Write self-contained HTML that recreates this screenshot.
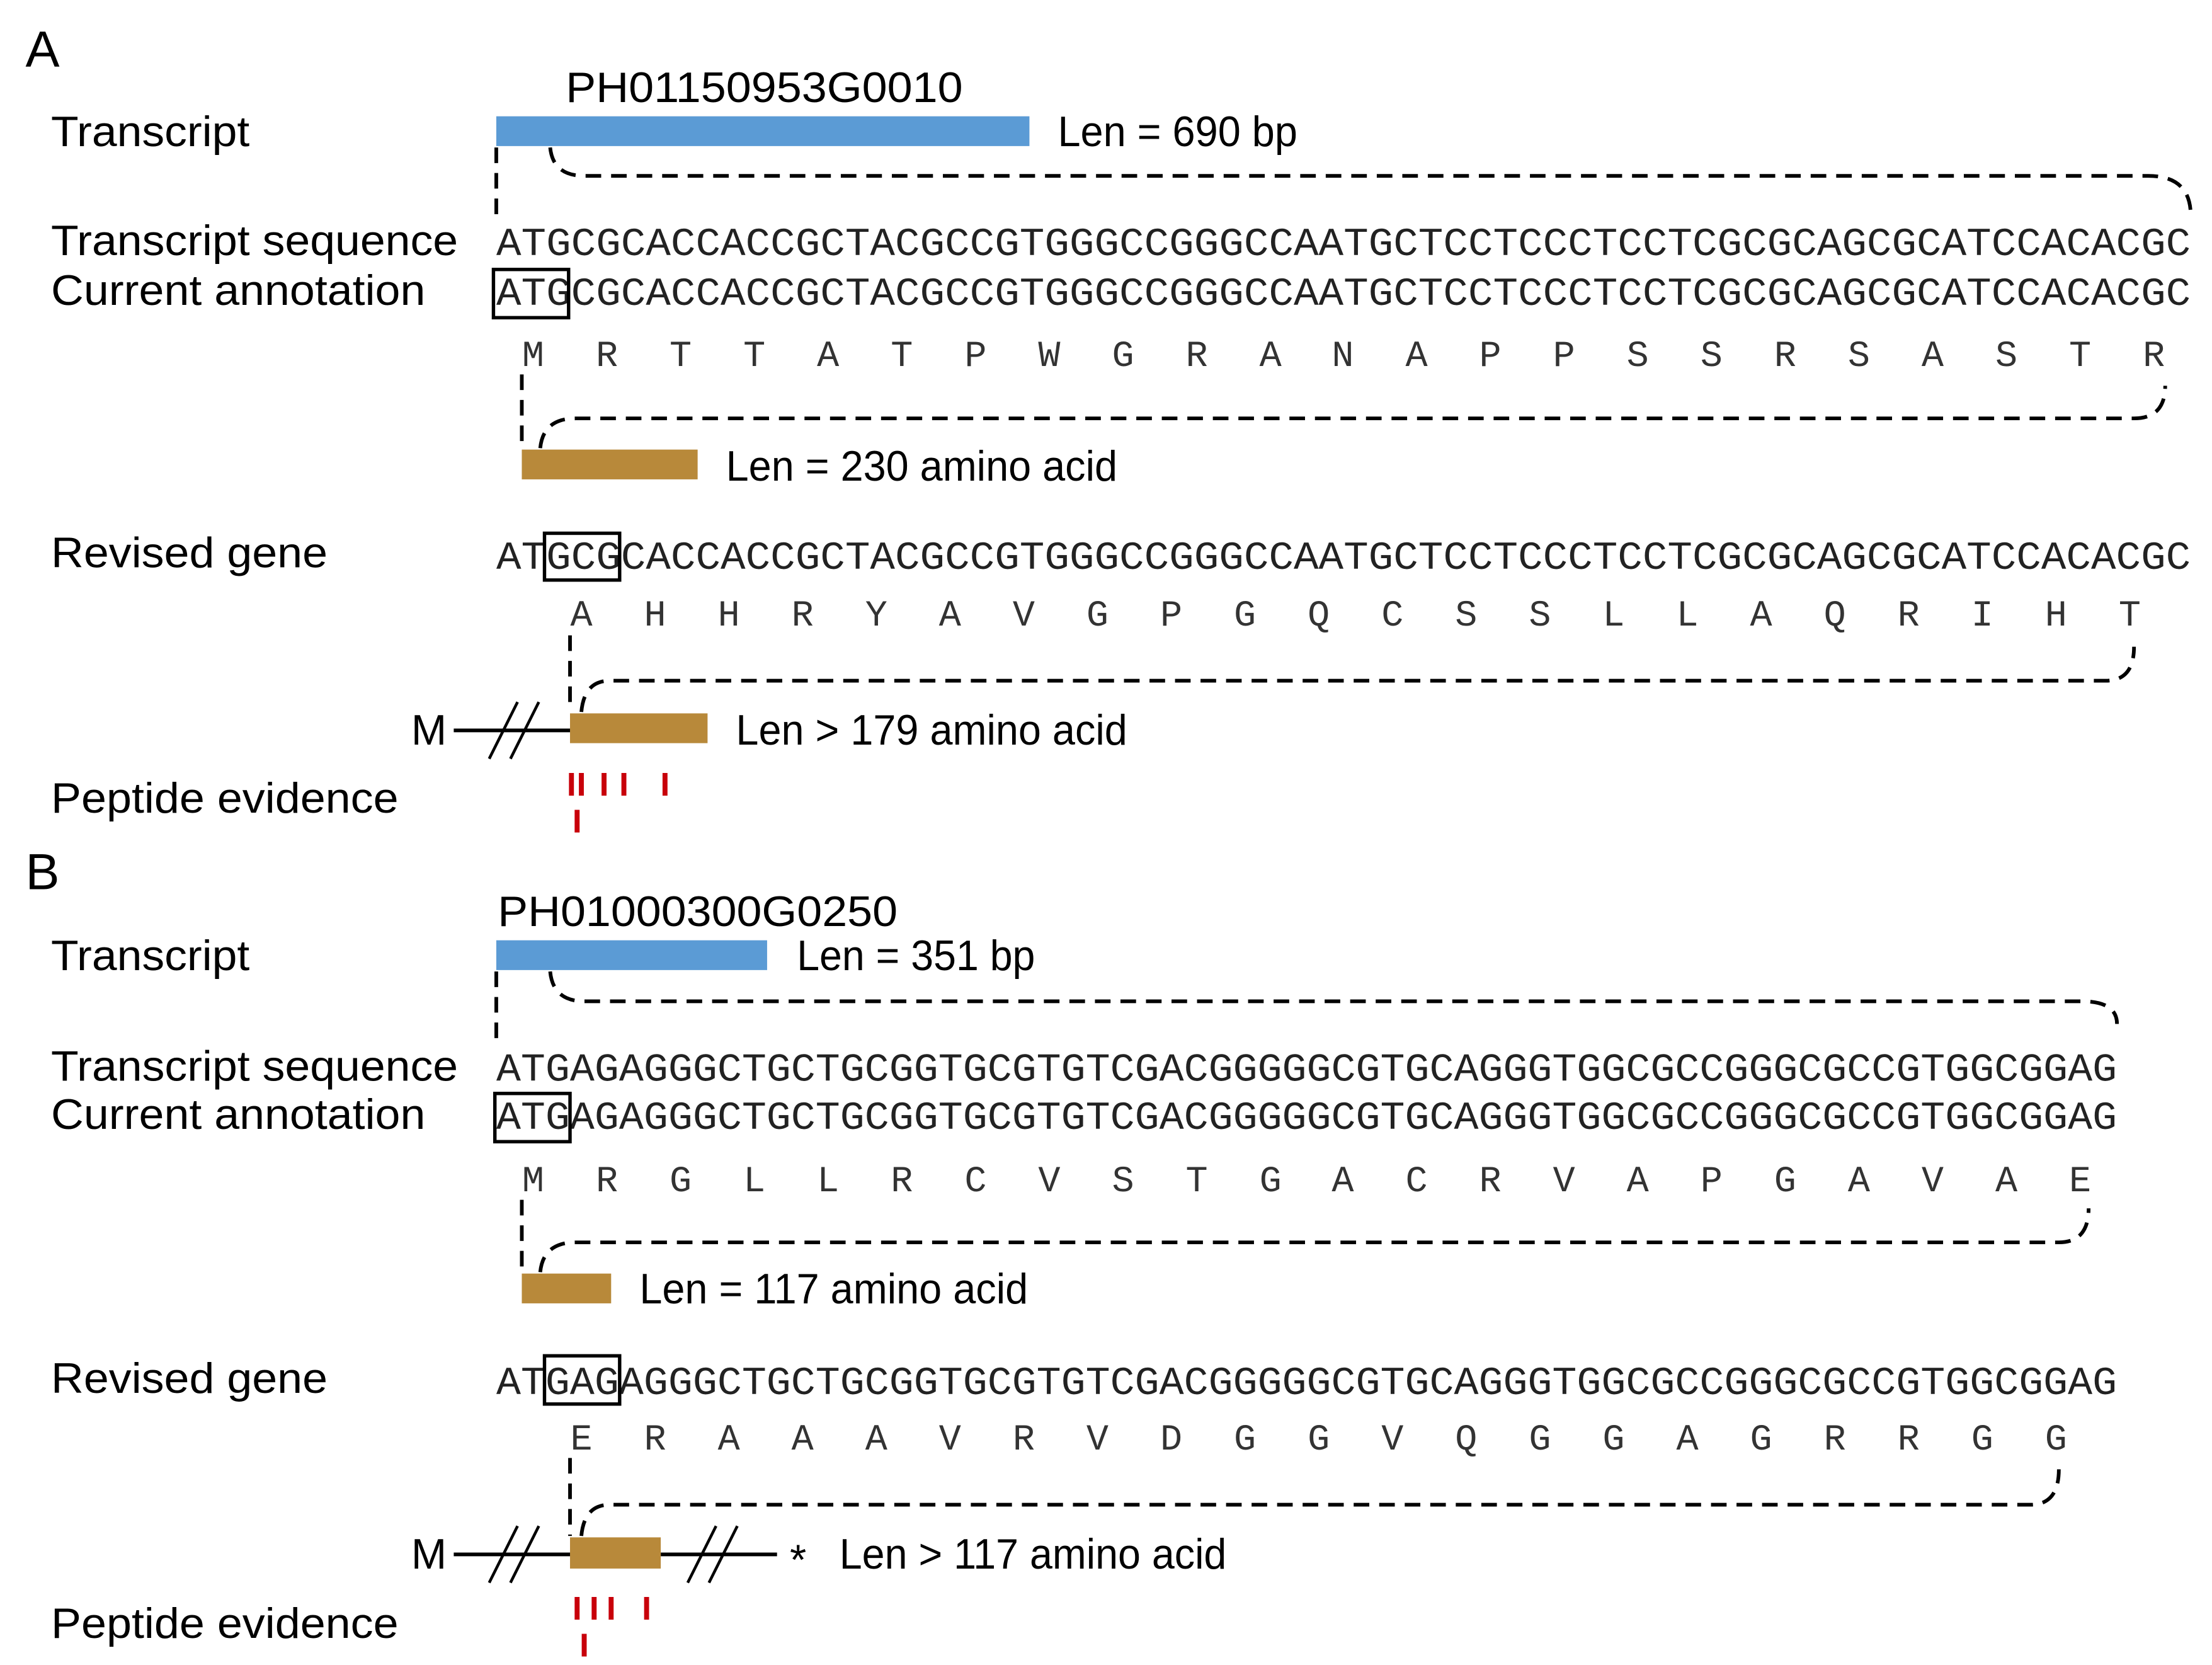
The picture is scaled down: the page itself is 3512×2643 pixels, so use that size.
<!DOCTYPE html>
<html><head><meta charset="utf-8"><style>
html,body{margin:0;padding:0;background:#fff;}
svg{display:block;}
.l{font-family:"Liberation Sans",Arial,sans-serif;font-size:30px;fill:#000;}
.m{font-family:"Liberation Mono","DejaVu Sans Mono",monospace;font-size:28px;fill:#222;}
.a{font-family:"Liberation Mono","DejaVu Sans Mono",monospace;font-size:26px;fill:#333;text-anchor:middle;}
.d{fill:none;stroke:#000;stroke-width:2.6;stroke-dasharray:11 7;}
.bx{fill:none;stroke:#000;stroke-width:2.4;}
.r{stroke:#c8000a;stroke-width:3.5;}
.k{stroke:#000;stroke-width:2.6;fill:none;}
</style></head><body>
<svg width="3512" height="2643" viewBox="0 0 1560 1174" xmlns="http://www.w3.org/2000/svg">
<rect width="1560" height="1174" fill="#fff"/>
<!-- Panel A -->
<text class="l" x="18" y="47" style="font-size:36px">A</text>
<text class="l" x="399" y="72" textLength="280" lengthAdjust="spacingAndGlyphs">PH01150953G0010</text>
<text class="l" x="36" y="103" textLength="140" lengthAdjust="spacingAndGlyphs">Transcript</text>
<rect x="350" y="82" width="376" height="21" fill="#5b9bd5"/>
<text class="l" x="746" y="103" textLength="169" lengthAdjust="spacingAndGlyphs">Len = 690 bp</text>
<path class="d" d="M350,104 V154"/>
<path class="d" d="M388,104 Q390,124 412,124 H1515 Q1545,124 1545,152"/>
<text class="l" x="36" y="180" textLength="287" lengthAdjust="spacingAndGlyphs">Transcript sequence</text>
<text class="m" x="350" y="180" textLength="1195" lengthAdjust="spacingAndGlyphs">ATGCGCACCACCGCTACGCCGTGGGCCGGGCCAATGCTCCTCCCTCCTCGCGCAGCGCATCCACACGC</text>
<text class="l" x="36" y="215" textLength="264" lengthAdjust="spacingAndGlyphs">Current annotation</text>
<text class="m" x="350" y="215" textLength="1195" lengthAdjust="spacingAndGlyphs">ATGCGCACCACCGCTACGCCGTGGGCCGGGCCAATGCTCCTCCCTCCTCGCGCAGCGCATCCACACGC</text>
<rect class="bx" x="348" y="190" width="53" height="34"/>
<text class="a" x="376 428 480 532 584 636 688 740 792 844 896 947 999 1051 1103 1155 1207 1259 1311 1363 1415 1467 1519" y="258">MRTTATPWGRANAPPSSRSASTR</text>
<path class="d" d="M368,264 V316"/>
<path class="d" d="M381,316 Q383,295 406,295 H1505 Q1527,295 1527,272"/>
<rect x="368" y="317" width="124" height="21" fill="#b8893a"/>
<text class="l" x="512" y="339" textLength="276" lengthAdjust="spacingAndGlyphs">Len = 230 amino acid</text>
<text class="l" x="36" y="400" textLength="195" lengthAdjust="spacingAndGlyphs">Revised gene</text>
<text class="m" x="350" y="401" textLength="1195" lengthAdjust="spacingAndGlyphs">ATGCGCACCACCGCTACGCCGTGGGCCGGGCCAATGCTCCTCCCTCCTCGCGCAGCGCATCCACACGC</text>
<rect class="bx" x="384" y="376" width="53" height="33"/>
<text class="a" x="410 462 514 566 618 670 722 774 826 878 930 982 1034 1086 1138 1190 1242 1294 1346 1398 1450 1502" y="441">AHHRYAVGPGQCSSLLAQRIHT</text>
<path class="d" d="M402,448 V502"/>
<path class="d" d="M410,502 Q412,480 430,480 H1485 Q1505,480 1505,456"/>
<text class="l" x="290" y="525">M</text>
<path class="k" d="M320,515 H402"/>
<path class="k" d="M345,535 L365,495 M360,535 L380,495" style="stroke-width:2"/>
<rect x="402" y="503" width="97" height="21" fill="#b8893a"/>
<text class="l" x="519" y="525" textLength="276" lengthAdjust="spacingAndGlyphs">Len &gt; 179 amino acid</text>
<text class="l" x="36" y="573" textLength="245" lengthAdjust="spacingAndGlyphs">Peptide evidence</text>
<path class="r" d="M403,545 V561 M410,545 V561 M426,545 V561 M440,545 V561 M469,545 V561 M407,571 V587"/>
<!-- Panel B -->
<text class="l" x="18" y="627" style="font-size:36px">B</text>
<text class="l" x="351" y="653" textLength="282" lengthAdjust="spacingAndGlyphs">PH01000300G0250</text>
<text class="l" x="36" y="684" textLength="140" lengthAdjust="spacingAndGlyphs">Transcript</text>
<rect x="350" y="663" width="191" height="21" fill="#5b9bd5"/>
<text class="l" x="562" y="684" textLength="168" lengthAdjust="spacingAndGlyphs">Len = 351 bp</text>
<path class="d" d="M350,685 V735"/>
<path class="d" d="M388,685 Q390,706 412,706 H1468 Q1493,706 1493,722"/>
<text class="l" x="36" y="762" textLength="287" lengthAdjust="spacingAndGlyphs">Transcript sequence</text>
<text class="m" x="350" y="762" textLength="1143" lengthAdjust="spacingAndGlyphs">ATGAGAGGGCTGCTGCGGTGCGTGTCGACGGGGGCGTGCAGGGTGGCGCCGGGCGCCGTGGCGGAG</text>
<text class="l" x="36" y="796" textLength="264" lengthAdjust="spacingAndGlyphs">Current annotation</text>
<text class="m" x="350" y="796" textLength="1143" lengthAdjust="spacingAndGlyphs">ATGAGAGGGCTGCTGCGGTGCGTGTCGACGGGGGCGTGCAGGGTGGCGCCGGGCGCCGTGGCGGAG</text>
<rect class="bx" x="349" y="771" width="53" height="34"/>
<text class="a" x="376 428 480 532 584 636 688 740 792 844 896 947 999 1051 1103 1155 1207 1259 1311 1363 1415 1467" y="840">MRGLLRCVSTGACRVAPGAVAE</text>
<path class="d" d="M368,846 V897"/>
<path class="d" d="M381,897 Q383,876 406,876 H1452 Q1473,876 1473,852"/>
<rect x="368" y="898" width="63" height="21" fill="#b8893a"/>
<text class="l" x="451" y="919" textLength="274" lengthAdjust="spacingAndGlyphs">Len = 117 amino acid</text>
<text class="l" x="36" y="982" textLength="195" lengthAdjust="spacingAndGlyphs">Revised gene</text>
<text class="m" x="350" y="983" textLength="1143" lengthAdjust="spacingAndGlyphs">ATGAGAGGGCTGCTGCGGTGCGTGTCGACGGGGGCGTGCAGGGTGGCGCCGGGCGCCGTGGCGGAG</text>
<rect class="bx" x="384" y="956" width="53" height="34"/>
<text class="a" x="410 462 514 566 618 670 722 774 826 878 930 982 1034 1086 1138 1190 1242 1294 1346 1398 1450" y="1022">ERAAAVRVDGGVQGGAGRRGG</text>
<path class="d" d="M402,1028 V1083"/>
<path class="d" d="M410,1083 Q412,1061 430,1061 H1432 Q1452,1061 1452,1036"/>
<text class="l" x="290" y="1106">M</text>
<path class="k" d="M320,1096 H402 M466,1096 H548"/>
<path class="k" d="M345,1116 L365,1076 M360,1116 L380,1076 M485,1116 L505,1076 M500,1116 L520,1076" style="stroke-width:2"/>
<rect x="402" y="1084" width="64" height="22" fill="#b8893a"/>
<text class="l" x="557" y="1110">*</text>
<text class="l" x="592" y="1106" textLength="273" lengthAdjust="spacingAndGlyphs">Len &gt; 117 amino acid</text>
<text class="l" x="36" y="1155" textLength="245" lengthAdjust="spacingAndGlyphs">Peptide evidence</text>
<path class="r" d="M407,1126 V1142 M419,1126 V1142 M431,1126 V1142 M456,1126 V1142 M412,1152 V1168"/>
</svg>
</body></html>
